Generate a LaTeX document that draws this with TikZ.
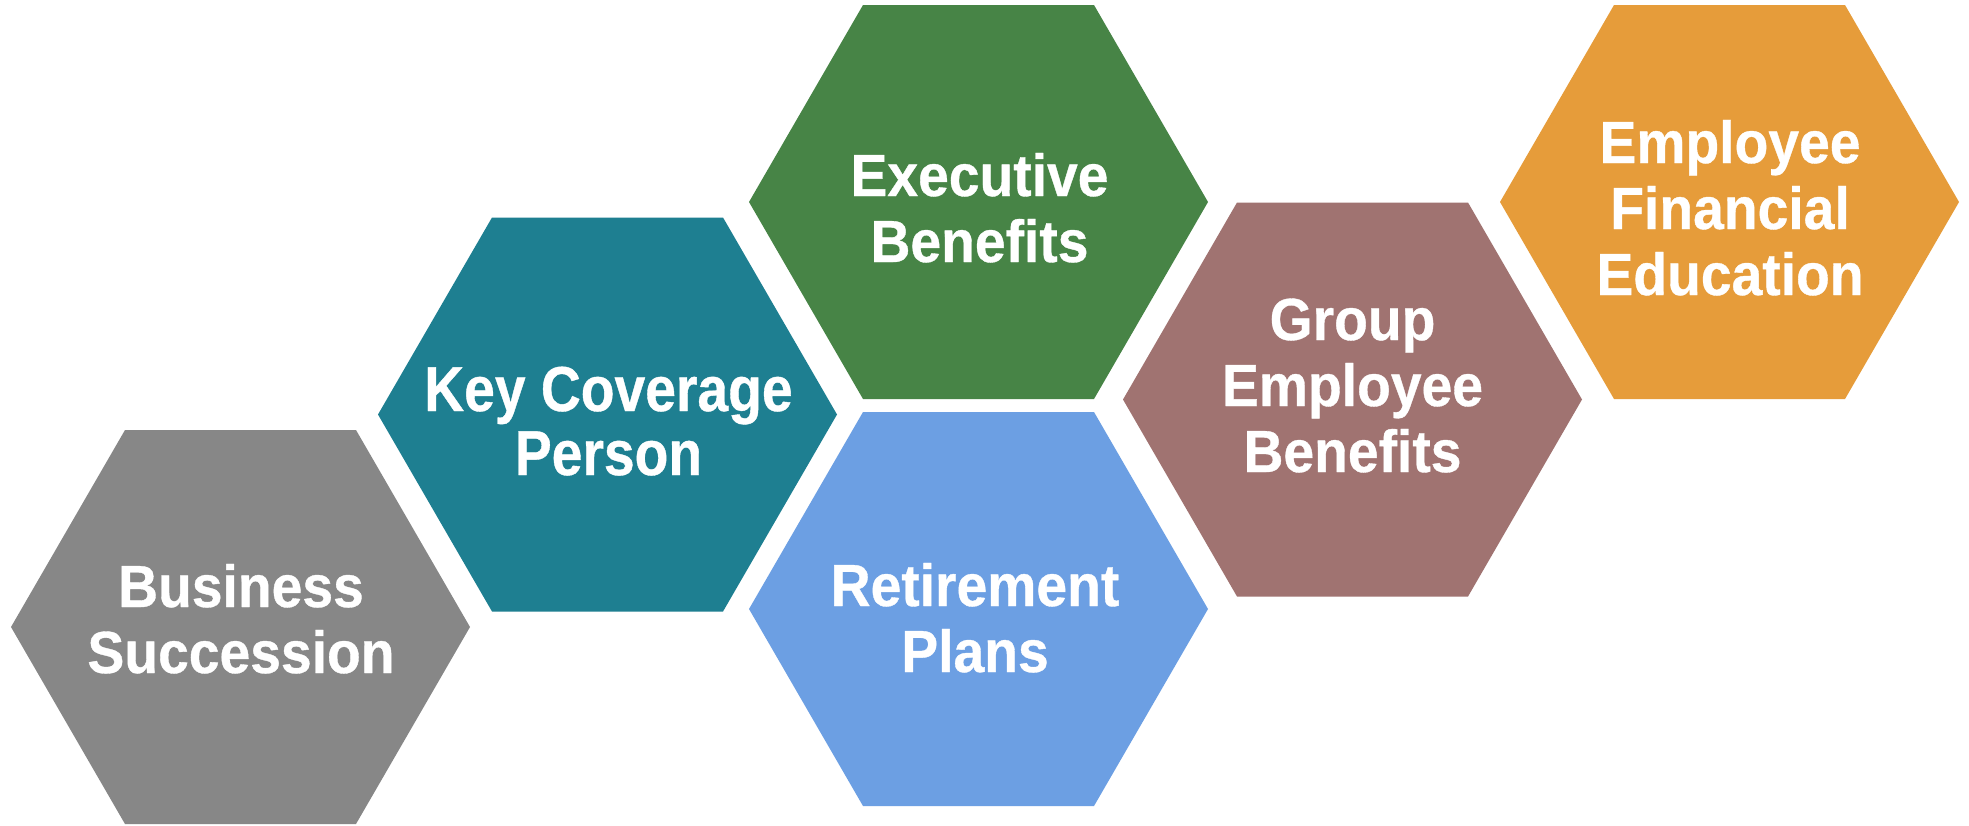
\documentclass[tikz,border=0pt]{standalone}
\usepackage{fontspec}
\setmainfont{Liberation Sans}[FakeStretch=0.93,FakeBold=0.6]
\newfontfamily\keyfont{Liberation Sans}[FakeStretch=0.87,FakeBold=0.6]
\definecolor{hexgray}{HTML}{878787}
\definecolor{hexteal}{HTML}{1E7F91}
\definecolor{hexgreen}{HTML}{478446}
\definecolor{hexblue}{HTML}{6C9FE3}
\definecolor{hexmauve}{HTML}{A07371}
\definecolor{hexorange}{HTML}{E69C3A}
\tikzset{
  hexagon/.pic={\fill[pic actions] (-229.5,0) -- (-115.5,-197) -- (115.5,-197) -- (229.5,0) -- (115.5,197) -- (-115.5,197) -- cycle;},
  lbl/.style={text=white, align=center, inner sep=0pt, anchor=base,
    font=\bfseries\fontsize{59.4}{66}\selectfont},
  keylbl/.style={lbl, font=\keyfont\bfseries\fontsize{63.5}{64}\selectfont}
}
\begin{document}
\begin{tikzpicture}[x=1pt,y=-1pt]
\useasboundingbox (0,0) rectangle (1969,825);
\fill[white] (0,0) rectangle (1969,825);
\pic[fill=hexgray]   at (240.5,627)   {hexagon};
\pic[fill=hexteal]   at (607.5,414.5) {hexagon};
\pic[fill=hexgreen]  at (978.5,202)   {hexagon};
\pic[fill=hexblue]   at (978.5,609)   {hexagon};
\pic[fill=hexmauve]  at (1352.5,399.5){hexagon};
\pic[fill=hexorange] at (1729.5,202)  {hexagon};
\node[lbl]    (business)  at (241,673)   {Business\\Succession};
\node[keylbl] (keyperson) at (608.5,475) {Key Coverage\\Person};
\node[lbl]    (executive) at (979.5,262) {Executive\\Benefits};
\node[lbl]    (retire)    at (975,672)   {Retirement\\Plans};
\node[lbl]    (group)     at (1352.5,472){Group\\Employee\\Benefits};
\node[lbl]    (education) at (1730,295)  {Employee\\Financial\\Education};
\end{tikzpicture}
\end{document}
